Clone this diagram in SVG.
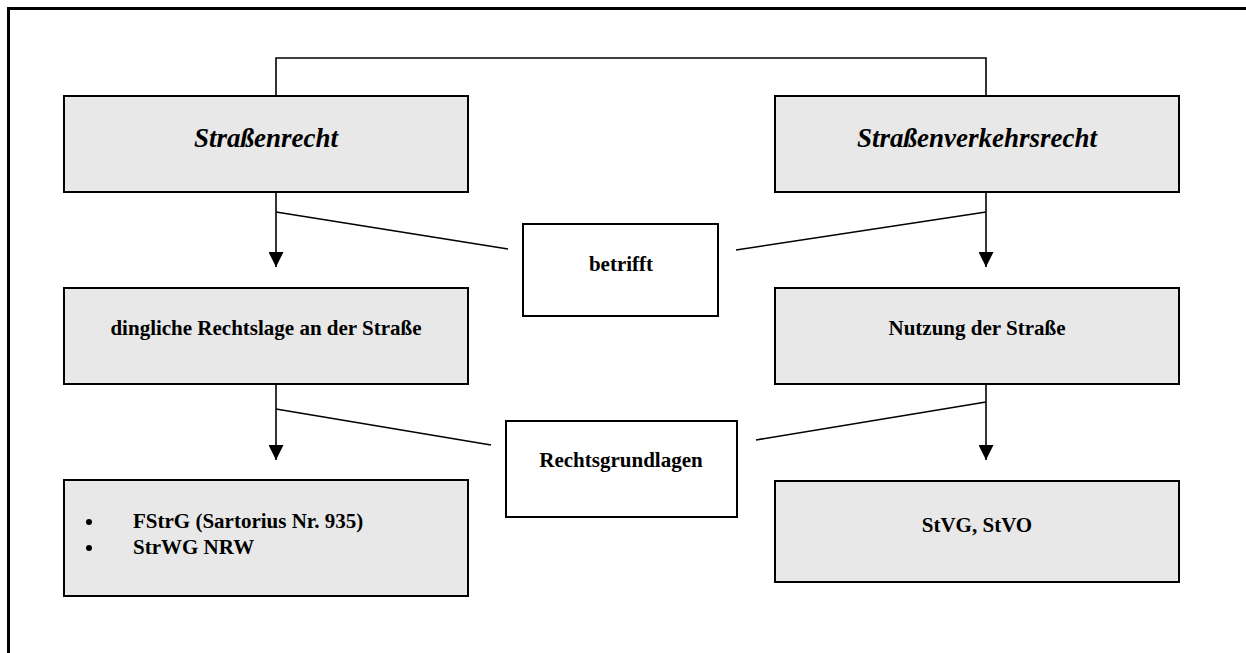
<svg xmlns="http://www.w3.org/2000/svg" width="1246" height="653" viewBox="0 0 1246 653">
<defs>
<style>
.box{fill:#e8e8e8;stroke:#000;stroke-width:2}
.wbox{fill:#fff;stroke:#000;stroke-width:2}
.ln{fill:none;stroke:#000;stroke-width:1.6}
.t{font-family:"Liberation Serif","Times New Roman",serif;font-weight:bold;font-size:21px;fill:#000}
.ti{font-family:"Liberation Serif","Times New Roman",serif;font-weight:bold;font-style:italic;font-size:27px;fill:#000}
</style>
<marker id="arr" viewBox="0 -7.5 15 15" refX="15" refY="0" markerWidth="15" markerHeight="15" markerUnits="userSpaceOnUse" orient="auto">
<path d="M0,-7.5 L15,0 L0,7.5 z" fill="#000"/>
</marker>
</defs>
<rect width="1246" height="653" fill="#fff"/>
<path d="M8.5,660 L8.5,8.5 L1250,8.5" fill="none" stroke="#000" stroke-width="3"/>
<g id="connectors">
<polyline class="ln" points="276,96 276,58 986,58 986,96"/>
<line class="ln" x1="276" y1="192" x2="276" y2="267" marker-end="url(#arr)"/>
<line class="ln" x1="986" y1="192" x2="986" y2="267" marker-end="url(#arr)"/>
<line class="ln" x1="276" y1="212" x2="508" y2="249"/>
<line class="ln" x1="986" y1="212" x2="736" y2="250"/>
<line class="ln" x1="276" y1="384" x2="276" y2="460" marker-end="url(#arr)"/>
<line class="ln" x1="986" y1="384" x2="986" y2="460" marker-end="url(#arr)"/>
<line class="ln" x1="276" y1="409" x2="491" y2="445"/>
<line class="ln" x1="986" y1="402" x2="756" y2="440"/>
</g>
<g id="strassenrecht">
<rect class="box" x="64" y="96" width="404" height="96"/>
<text class="ti" x="266" y="147" text-anchor="middle">Straßenrecht</text>
</g>
<g id="strassenverkehrsrecht">
<rect class="box" x="775" y="96" width="404" height="96"/>
<text class="ti" x="977" y="147" text-anchor="middle">Straßenverkehrsrecht</text>
</g>
<g id="betrifft">
<rect class="wbox" x="523" y="224" width="195" height="92"/>
<text class="t" x="621" y="271" text-anchor="middle">betrifft</text>
</g>
<g id="dingliche">
<rect class="box" x="64" y="288" width="404" height="96"/>
<text class="t" x="266" y="335" text-anchor="middle">dingliche Rechtslage an der Straße</text>
</g>
<g id="nutzung">
<rect class="box" x="775" y="288" width="404" height="96"/>
<text class="t" x="977" y="335" text-anchor="middle">Nutzung der Straße</text>
</g>
<g id="rechtsgrundlagen">
<rect class="wbox" x="506" y="421" width="231" height="96"/>
<text class="t" x="621" y="467" text-anchor="middle">Rechtsgrundlagen</text>
</g>
<g id="fstrg">
<rect class="box" x="64" y="480" width="404" height="116"/>
<circle cx="89" cy="522" r="3"/>
<circle cx="89" cy="548" r="3"/>
<text class="t" x="133" y="528">FStrG (Sartorius Nr. 935)</text>
<text class="t" x="133" y="554">StrWG NRW</text>
</g>
<g id="stvg">
<rect class="box" x="775" y="481" width="404" height="101"/>
<text class="t" x="977" y="532" text-anchor="middle">StVG, StVO</text>
</g>
</svg>
